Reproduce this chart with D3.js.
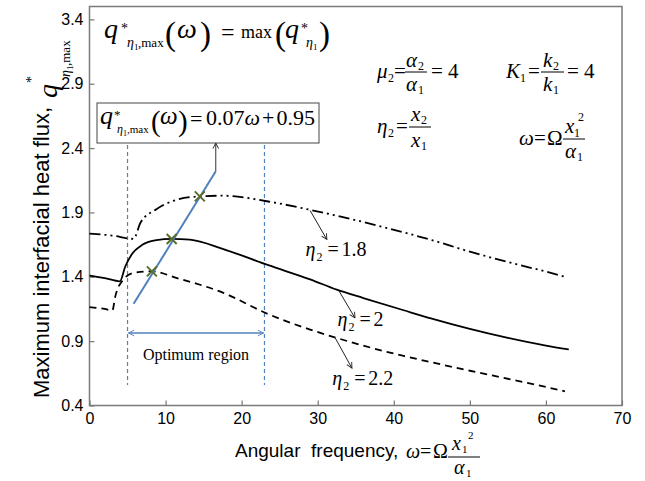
<!DOCTYPE html>
<html>
<head>
<meta charset="utf-8">
<script src="https://cdn.jsdelivr.net/npm/d3@7"></script>
<style>
body { margin: 0; background: #fff; }
svg { display: block; }
</style>
</head>
<body>
<div id="chart"></div>
<script>
//Datos
const xTicks = [0, 10, 20, 30, 40, 50, 60, 70];
const yTicks = [0.4, 0.9, 1.4, 1.9, 2.4, 2.9, 3.4];

//eta2 = 1.8 (trazo-punto-punto)
const omega18 = [0, 3, 5.8, 6.7, 8.8, 11, 14.5, 17.6, 23.5, 29, 35, 41.3, 45, 50, 55, 60, 62.5];
const q18 = [1.735, 1.72, 1.695, 1.82, 1.925, 1.99, 2.025, 2.03, 1.985, 1.92, 1.84, 1.745, 1.685, 1.595, 1.515, 1.44, 1.40];

//eta2 = 2 (continua)
const omega20 = [0, 2, 4.0, 4.7, 5.5, 7, 8.8, 10.8, 13.2, 17.6, 23.5, 29, 32.5, 36, 41.3, 45, 50, 55, 60, 63];
const q20 = [1.41, 1.39, 1.365, 1.48, 1.57, 1.65, 1.685, 1.694, 1.688, 1.615, 1.49, 1.38, 1.30, 1.235, 1.14, 1.075, 0.995, 0.925, 0.865, 0.835];

//eta2 = 2.2 (discontinua)
const omega22 = [0, 2, 3.0, 3.4, 4.4, 5.8, 8.2, 11.5, 17.6, 23.5, 29, 32.5, 36, 41.3, 45, 50, 54.4, 58, 62.5];
const q22 = [1.165, 1.15, 1.138, 1.25, 1.375, 1.43, 1.442, 1.39, 1.275, 1.11, 0.99, 0.925, 0.865, 0.785, 0.735, 0.67, 0.615, 0.57, 0.51];

//Máximos (cruces) y recta de ajuste
const peakOmega = [8.2, 10.8, 14.5];
const peakQ = [1.442, 1.694, 2.025];
const fitOmega = [5.8, 16.6];
const fitQ = [1.19, 2.22];
const optimumRange = [5, 23];

const SANS = '"Liberation Sans", Arial, sans-serif';
const SERIF = '"Liberation Serif", "Times New Roman", serif';
const BLUE = '#4f81bd';

let width = 645, height = 481;
let svg = d3.select('#chart').append('svg')
    .attr('width', width)
    .attr('height', height);

let x = d3.scaleLinear().domain([0, 70]).range([89.5, 622]);
let y = d3.scaleLinear().domain([0.4, 3.5]).range([405.5, 6.5]);

//Marcadores de flecha
let defs = svg.append('defs');
function arrowMarker(id, color) {
    defs.append('marker')
        .attr('id', id)
        .attr('viewBox', '0 0 10 10')
        .attr('refX', 9).attr('refY', 5)
        .attr('markerWidth', 7).attr('markerHeight', 7)
        .attr('markerUnits', 'userSpaceOnUse')
        .attr('orient', 'auto-start-reverse')
        .append('path')
        .attr('d', 'M1,1 L9,5 L1,9')
        .attr('fill', 'none')
        .attr('stroke', color)
        .attr('stroke-width', 1.3);
}
arrowMarker('arrBlack', '#222');
arrowMarker('arrBlue', BLUE);

//Ejes
let xAxis = function(g) {
    g.call(d3.axisBottom(x).tickValues(xTicks).tickSizeInner(-5).tickSizeOuter(0).tickPadding(7));
    g.call(function(g){ g.select('.domain').remove(); });
    g.selectAll('.tick line').attr('stroke', '#777').attr('stroke-width', 1.2);
    g.selectAll('.tick text').attr('font-family', SANS).attr('font-size', 16).attr('fill', '#000');
};
let yAxis = function(g) {
    g.call(d3.axisLeft(y).tickValues(yTicks).tickFormat(d3.format('.1f')).tickSizeInner(-5).tickSizeOuter(0).tickPadding(6));
    g.call(function(g){ g.select('.domain').remove(); });
    g.selectAll('.tick line').attr('stroke', '#777').attr('stroke-width', 1.2);
    g.selectAll('.tick text').attr('font-family', SANS).attr('font-size', 16).attr('fill', '#000');
};

svg.append('g').attr('transform', 'translate(0,' + y.range()[0] + ')').call(xAxis);
svg.append('g').attr('transform', 'translate(' + x.range()[0] + ',0)').call(yAxis);

//Marco
svg.append('rect')
    .attr('x', x.range()[0]).attr('y', y.range()[1])
    .attr('width', x.range()[1] - x.range()[0])
    .attr('height', y.range()[0] - y.range()[1])
    .attr('fill', 'none')
    .attr('stroke', '#7a7a7a')
    .attr('stroke-width', 1.5);

//Región óptima
optimumRange.forEach(function(v) {
    svg.append('line')
        .attr('x1', x(v)).attr('x2', x(v))
        .attr('y1', 145).attr('y2', 385)
        .attr('stroke', BLUE).attr('stroke-width', 1.2)
        .attr('stroke-dasharray', '4,3');
});
svg.append('line')
    .attr('x1', x(optimumRange[0]) + 1).attr('x2', x(optimumRange[1]) - 1)
    .attr('y1', 333).attr('y2', 333)
    .attr('stroke', BLUE).attr('stroke-width', 1.5)
    .attr('marker-start', 'url(#arrBlue)')
    .attr('marker-end', 'url(#arrBlue)');
svg.append('text')
    .attr('x', (x(optimumRange[0]) + x(optimumRange[1])) / 2).attr('y', 360)
    .attr('text-anchor', 'middle')
    .attr('font-family', SERIF).attr('font-size', 16)
    .text('Optimum region');

//Curvas
function drawCurve(xs, ys, dash) {
    let pts = xs.map(function(d, i) { return [d, ys[i]]; });
    svg.append('path')
        .datum(pts)
        .attr('fill', 'none')
        .attr('stroke', '#000')
        .attr('stroke-width', 1.8)
        .attr('stroke-dasharray', dash)
        .attr('d', d3.line()
            .x(function(d) { return x(d[0]); })
            .y(function(d) { return y(d[1]); })
            .curve(d3.curveMonotoneX));
}
drawCurve(omega18, q18, '11,4,2,4,2,4');
drawCurve(omega20, q20, null);
drawCurve(omega22, q22, '7,5');

//Recta de ajuste
svg.append('line')
    .attr('x1', x(fitOmega[0])).attr('y1', y(fitQ[0]))
    .attr('x2', x(fitOmega[1])).attr('y2', y(fitQ[1]))
    .attr('stroke', BLUE).attr('stroke-width', 2);

//Cruces en los máximos
peakOmega.forEach(function(d, i) {
    let cx = x(d), cy = y(peakQ[i]), s = 5;
    svg.append('path')
        .attr('d', 'M' + (cx - s) + ',' + (cy - s) + 'L' + (cx + s) + ',' + (cy + s) +
                   'M' + (cx - s) + ',' + (cy + s) + 'L' + (cx + s) + ',' + (cy - s))
        .attr('stroke', '#5b6e2e').attr('stroke-width', 2).attr('fill', 'none');
});

//Flecha hacia la caja de la ecuación
svg.append('line')
    .attr('x1', x(fitOmega[1])).attr('y1', y(fitQ[1]))
    .attr('x2', x(fitOmega[1])).attr('y2', 143)
    .attr('stroke', '#333').attr('stroke-width', 1)
    .attr('marker-end', 'url(#arrBlack)');

//Utilidades de texto matemático
function sym(g, px, py, s, size, italic, fam) {
    return g.append('text')
        .attr('x', px).attr('y', py)
        .attr('font-family', fam || SERIF)
        .attr('font-size', size)
        .attr('font-style', italic ? 'italic' : 'normal')
        .attr('fill', '#000')
        .text(s);
}
function bar(g, x1, x2, py) {
    g.append('line').attr('x1', x1).attr('x2', x2).attr('y1', py).attr('y2', py)
        .attr('stroke', '#000').attr('stroke-width', 1);
}

//Ecuación superior
let f1 = svg.append('g');
sym(f1, 104, 38, 'q', 28, true);
sym(f1, 121, 33, '*', 14);
sym(f1, 127, 47, 'η', 14, true);
sym(f1, 134, 50, '1', 9);
sym(f1, 138, 47, ',max', 13);
sym(f1, 165, 45, '(', 33);
sym(f1, 177, 38, 'ω', 28, true);
sym(f1, 200, 45, ')', 33);
sym(f1, 221, 40, '=', 24);
sym(f1, 241, 38, 'max', 18);
sym(f1, 275, 45, '(', 33);
sym(f1, 285, 38, 'q', 28, true);
sym(f1, 301, 33, '*', 14);
sym(f1, 306, 47, 'η', 14, true);
sym(f1, 313, 50, '1', 9);
sym(f1, 319, 45, ')', 33);

//Caja con la ecuación de ajuste
let f2 = svg.append('g');
f2.append('rect').attr('x', 97).attr('y', 103).attr('width', 222).attr('height', 40)
    .attr('fill', '#fff').attr('stroke', '#444').attr('stroke-width', 1);
sym(f2, 100, 124, 'q', 26, true);
sym(f2, 114, 119, '*', 13);
sym(f2, 117, 133, 'η', 12, true);
sym(f2, 123, 136, '1', 8);
sym(f2, 127, 133, ',max', 11);
sym(f2, 151, 131, '(', 29);
sym(f2, 160, 124, 'ω', 25, true);
sym(f2, 178, 131, ')', 29);
sym(f2, 190, 126, '=', 22);
let eq = sym(f2, 206, 125, '0.07', 22);
eq.append('tspan').attr('font-style', 'italic').text('ω');
eq.append('tspan').attr('dx', 2).text('+');
eq.append('tspan').attr('dx', 2).text('0.95');

//Parámetros a la derecha
let f3 = svg.append('g');
sym(f3, 377, 78, 'μ', 21, true);
sym(f3, 388, 82, '2', 12);
sym(f3, 394, 78, '=', 21);
bar(f3, 405, 427, 72);
sym(f3, 406, 67, 'α', 21, true);
sym(f3, 418, 70, '2', 12);
sym(f3, 406, 91, 'α', 21, true);
sym(f3, 418, 94, '1', 12);
sym(f3, 431, 78, '= 4', 21);

sym(f3, 506, 78, 'K', 21, true);
sym(f3, 520, 82, '1', 12);
sym(f3, 528, 78, '=', 21);
bar(f3, 541, 564, 72);
sym(f3, 543, 67, 'k', 21, true);
sym(f3, 553, 70, '2', 12);
sym(f3, 543, 91, 'k', 21, true);
sym(f3, 553, 94, '1', 12);
sym(f3, 567, 78, '= 4', 21);

sym(f3, 377, 133, 'η', 21, true);
sym(f3, 388, 137, '2', 12);
sym(f3, 396, 133, '=', 21);
bar(f3, 409, 431, 127);
sym(f3, 411, 121, 'x', 21, true);
sym(f3, 421, 124, '2', 12);
sym(f3, 411, 147, 'x', 21, true);
sym(f3, 421, 150, '1', 12);

sym(f3, 519, 145, 'ω', 21, true);
sym(f3, 534, 145, '=', 21);
sym(f3, 547, 145, 'Ω', 21);
bar(f3, 563, 585, 139);
sym(f3, 565, 133, 'x', 21, true);
sym(f3, 574, 137, '1', 12);
sym(f3, 578, 121, '2', 12);
sym(f3, 565, 158, 'α', 21, true);
sym(f3, 577, 161, '1', 12);

//Etiquetas de las curvas
function curveLabel(px, py, ax, ay, bx, by, val) {
    svg.append('line')
        .attr('x1', x(ax)).attr('y1', y(ay))
        .attr('x2', x(bx)).attr('y2', y(by))
        .attr('stroke', '#222').attr('stroke-width', 1)
        .attr('marker-end', 'url(#arrBlack)');
    let g = svg.append('g');
    sym(g, x(px), y(py), 'η', 20, true);
    sym(g, x(px) + 11, y(py) + 5, '2', 12);
    sym(g, x(px) + 22, y(py), '=', 20);
    sym(g, x(px) + 36, y(py), val, 20);
}
curveLabel(28.4, 1.56, 29.0, 1.915, 31.2, 1.69, '1.8');
curveLabel(32.6, 1.02, 32.8, 1.29, 34.9, 1.08, '2');
curveLabel(31.9, 0.56, 32.3, 0.925, 34.5, 0.69, '2.2');

//Título eje X
let xl = svg.append('g');
sym(xl, 235, 457, 'Angular\u00a0 frequency,', 19, false, SANS);
sym(xl, 406, 458, 'ω', 20, true);
sym(xl, 420, 458, '=', 20);
sym(xl, 433, 458, 'Ω', 20);
bar(xl, 448, 480, 457);
sym(xl, 452, 450, 'x', 20, true);
sym(xl, 462, 453, '1', 11);
sym(xl, 468, 439, '2', 11);
sym(xl, 454, 474, 'α', 20, true);
sym(xl, 466, 477, '1', 11);

//Título eje Y
let yl = svg.append('g').attr('transform', 'translate(49,398) rotate(-90)');
let yt = sym(yl, 0, 0, 'Maximum interfacial heat flux,', 22, false, SANS);
let L = yt.node().getComputedTextLength();
sym(yl, L + 9, 8, 'q', 28, true);
sym(yl, L + 24, -13, '*', 14);
sym(yl, L + 30, 21, 'η', 14, true);
sym(yl, L + 37, 24, '1', 9);
sym(yl, L + 41, 21, ',max', 13);
</script>
</body>
</html>
